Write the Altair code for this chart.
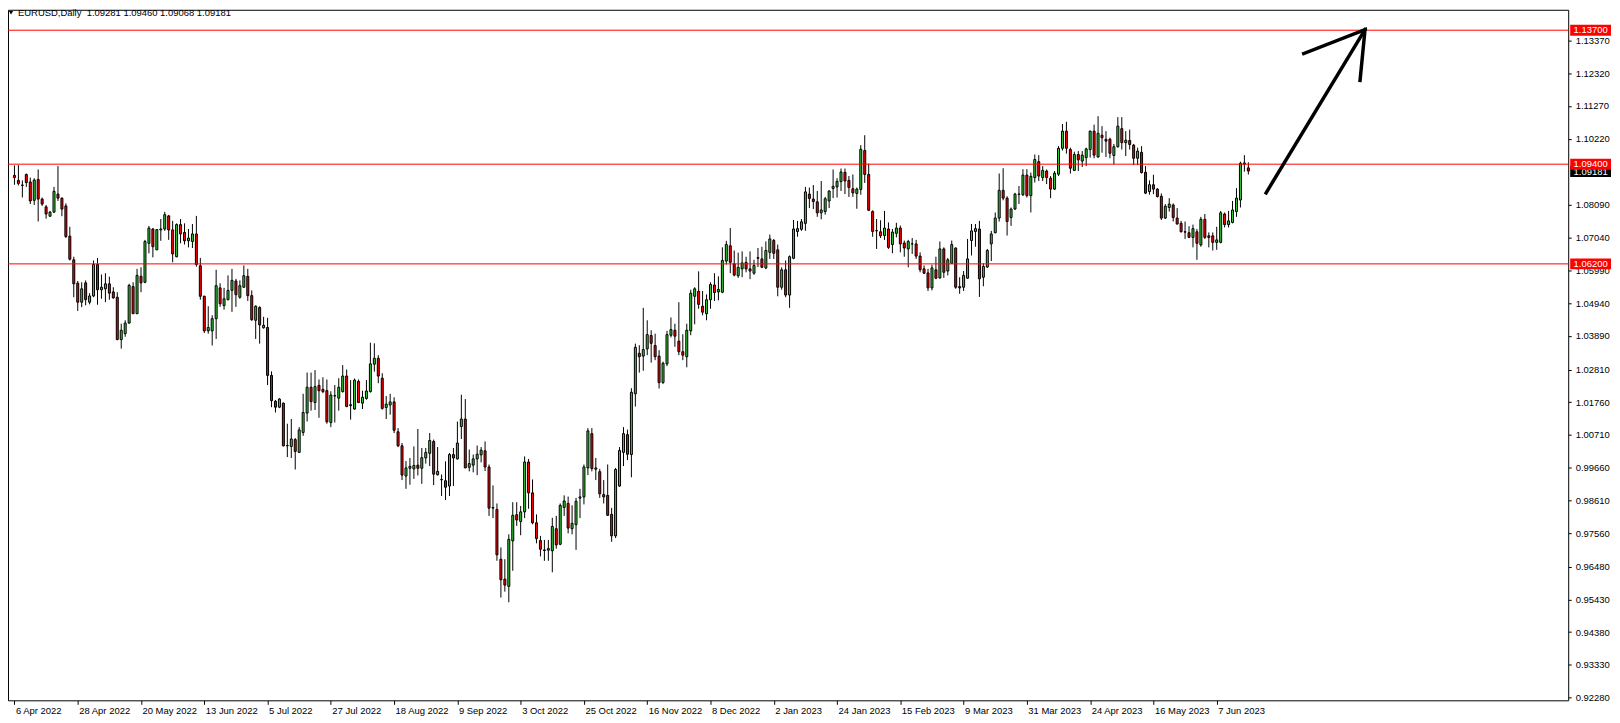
import altair as alt
import pandas as pd

# ---------------- data ----------------
opens = [
1.0904,1.0888,1.0873,1.0907,1.0883,1.0824,1.0891,1.0828,1.0803,1.0773,
1.0786,1.0844,1.0831,1.0806,1.0709,1.0633,1.0558,1.0497,1.0559,1.0497,
1.0517,1.0618,1.0537,1.0540,1.0556,1.0530,1.0513,1.0377,1.0396,1.0430,
1.0547,1.0460,1.0580,1.0561,1.0686,1.0732,1.0665,1.0729,1.0732,1.0774,
1.0729,1.0643,1.0746,1.0721,1.0694,1.0692,1.0716,1.0614,1.0516,1.0405,
1.0405,1.0444,1.0543,1.0486,1.0505,1.0535,1.0565,1.0513,1.0545,1.0580,
1.0518,1.0439,1.0480,1.0415,1.0416,1.0262,1.0179,1.0160,1.0173,1.0036,
1.0034,1.0056,1.0015,1.0079,1.0141,1.0224,1.0175,1.0230,1.0217,1.0213,
1.0111,1.0196,1.0189,1.0210,1.0260,1.0165,1.0154,1.0243,1.0173,1.0188,
1.0210,1.0298,1.0317,1.0253,1.0159,1.0167,1.0177,1.0081,1.0036,0.9939,
0.9964,0.9962,0.9974,0.9964,0.9997,1.0012,1.0050,0.9943,0.9928,0.9924,
0.9907,1.0008,0.9994,1.0098,1.0122,0.9967,0.9974,0.9994,1.0007,1.0020,
0.9968,0.9836,0.9832,0.9672,0.9608,0.9585,0.9731,0.9815,0.9793,0.9824,
0.9984,0.9885,0.9789,0.9732,0.9702,0.9701,0.9699,0.9770,0.9720,0.9838,
0.9851,0.9770,0.9783,0.9868,0.9872,0.9965,1.0075,0.9965,0.9953,0.9880,
0.9877,0.9816,0.9747,0.9907,1.0015,1.0072,1.0008,1.0203,1.0333,1.0324,
1.0347,1.0390,1.0358,1.0324,1.0239,1.0299,1.0391,1.0407,1.0372,1.0338,
1.0322,1.0405,1.0516,1.0532,1.0484,1.0460,1.0505,1.0552,1.0530,1.0529,
1.0629,1.0678,1.0620,1.0582,1.0604,1.0625,1.0604,1.0590,1.0640,1.0636,
1.0607,1.0657,1.0695,1.0665,1.0545,1.0601,1.0520,1.0638,1.0724,1.0731,
1.0750,1.0844,1.0828,1.0819,1.0784,1.0788,1.0822,1.0862,1.0867,1.0884,
1.0914,1.0888,1.0861,1.0846,1.0859,1.0984,1.0907,1.0788,1.0727,1.0723,
1.0711,1.0732,1.0682,1.0718,1.0735,1.0687,1.0668,1.0684,1.0684,1.0645,
1.0604,1.0591,1.0543,1.0601,1.0575,1.0668,1.0597,1.0622,1.0671,1.0547,
1.0545,1.0574,1.0695,1.0724,1.0732,1.0577,1.0610,1.0684,1.0720,1.0767,
1.0856,1.0831,1.0769,1.0796,1.0843,1.0842,1.0905,1.0839,1.0897,1.0948,
1.0897,1.0918,1.0895,1.0860,1.0908,1.0991,1.1046,1.0987,1.0920,1.0971,
1.0950,1.0961,1.0987,1.1046,1.0963,1.1033,1.1020,1.1020,1.0968,1.0996,
1.1054,1.1009,1.1016,1.1001,1.0959,1.0978,1.0914,1.0852,1.0874,1.0860,
1.0837,1.0767,1.0801,1.0809,1.0767,1.0750,1.0723,1.0720,1.0705,1.0723,
1.0681,1.0763,1.0710,1.0710,1.0689,1.0689,1.0780,1.0746,1.0753,1.0788,
1.0825,1.0940,1.09281]

highs = [
1.0936,1.0937,1.0888,1.0910,1.0897,1.0895,1.0923,1.0833,1.0809,1.0790,
1.0867,1.0934,1.0833,1.0814,1.0739,1.0643,1.0565,1.0561,1.0567,1.0526,
1.0631,1.0639,1.0586,1.0590,1.0579,1.0545,1.0529,1.0428,1.0439,1.0556,
1.0561,1.0604,1.0609,1.0697,1.0742,1.0735,1.0732,1.0764,1.0787,1.0777,
1.0758,1.0750,1.0764,1.0750,1.0732,1.0748,1.0774,1.0639,1.0518,1.0484,
1.0455,1.0601,1.0558,1.0543,1.0583,1.0604,1.0572,1.0567,1.0615,1.0604,
1.0535,1.0487,1.0484,1.0450,1.0447,1.0275,1.0183,1.0189,1.0175,1.0107,
1.0122,1.0061,1.0096,1.0203,1.0271,1.0271,1.0279,1.0249,1.0256,1.0249,
1.0211,1.0231,1.0253,1.0295,1.0281,1.0247,1.0252,1.0249,1.0213,1.0247,
1.0367,1.0365,1.0327,1.0269,1.0196,1.0203,1.0192,1.0093,1.0045,0.9987,
0.9997,1.0034,1.0090,1.0029,1.0029,1.0077,1.0056,1.0032,0.9944,0.9986,
1.0013,1.0029,1.0114,1.0200,1.0186,1.0024,1.0008,1.0037,1.0032,1.0050,
0.9976,0.9909,0.9851,0.9710,0.9672,0.9752,0.9855,0.9855,0.9843,1.0002,
0.9994,0.9928,0.9816,0.9747,0.9734,0.9734,0.9805,0.9811,0.9851,0.9877,
0.9873,0.9845,0.9869,0.9898,0.9976,1.0093,1.0093,0.9997,0.9962,0.9926,
0.9976,0.9837,0.9965,1.0032,1.0096,1.0088,1.0221,1.0364,1.0359,1.0479,
1.0439,1.0407,1.0396,1.0343,1.0306,1.0405,1.0448,1.0428,1.0497,1.0394,
1.0428,1.0537,1.0545,1.0596,1.0533,1.0522,1.0561,1.0590,1.0580,1.0673,
1.0694,1.0735,1.0663,1.0656,1.0660,1.0643,1.0660,1.0633,1.0671,1.0675,
1.0692,1.0714,1.0700,1.0682,1.0609,1.0631,1.0647,1.0761,1.0758,1.0764,
1.0867,1.0865,1.0873,1.0854,1.0886,1.0835,1.0856,1.0923,1.0895,1.0926,
1.0926,1.0902,1.0907,1.0865,1.1001,1.1033,1.0942,1.0792,1.0764,1.0760,
1.0790,1.0753,1.0732,1.0752,1.0743,1.0695,1.0697,1.0703,1.0697,1.0657,
1.0615,1.0604,1.0617,1.0643,1.0692,1.0673,1.0639,1.0695,1.0673,1.0577,
1.0597,1.0700,1.0748,1.0748,1.0758,1.0622,1.0668,1.0726,1.0785,1.0910,
1.0927,1.0837,1.0801,1.0848,1.0870,1.0924,1.0924,1.0913,1.0971,1.0969,
1.0934,1.0923,1.0902,1.0918,1.0998,1.1069,1.1076,1.0993,1.0980,1.0982,
1.0982,1.0993,1.1048,1.1067,1.1094,1.1062,1.1046,1.1025,1.1005,1.1091,
1.1091,1.1046,1.1051,1.1005,1.0993,1.0998,1.0934,1.0888,1.0906,1.0863,
1.0846,1.0812,1.0831,1.0814,1.0799,1.0758,1.0756,1.0741,1.0746,1.0732,
1.0771,1.0780,1.0721,1.0721,1.0739,1.0790,1.0785,1.0790,1.0822,1.0863,
1.0948,1.0969,1.09460]

lows = [
1.0874,1.0872,1.0833,1.0867,1.0812,1.0809,1.0756,1.0806,1.0765,1.0771,
1.0784,1.0822,1.0773,1.0703,1.0631,1.0513,1.0469,1.0481,1.0487,1.0490,
1.0513,1.0489,1.0508,1.0497,1.0505,1.0508,1.0375,1.0348,1.0386,1.0428,
1.0460,1.0460,1.0529,1.0558,1.0654,1.0641,1.0665,1.0694,1.0726,1.0697,
1.0625,1.0641,1.0686,1.0682,1.0673,1.0671,1.0611,1.0505,1.0398,1.0396,
1.0358,1.0379,1.0482,1.0473,1.0503,1.0466,1.0482,1.0508,1.0543,1.0501,
1.0437,1.0379,1.0364,1.0412,1.0231,1.0160,1.0143,1.0157,1.0034,1.0000,
0.9997,0.9960,1.0013,1.0068,1.0114,1.0149,1.0151,1.0126,1.0205,1.0107,
1.0096,1.0111,1.0149,1.0207,1.0160,1.0120,1.0152,1.0173,1.0154,1.0184,
1.0207,1.0274,1.0237,1.0152,1.0122,1.0136,1.0077,1.0032,0.9926,0.9898,
0.9911,0.9930,0.9941,0.9914,0.9979,0.9971,0.9910,0.9941,0.9875,0.9862,
0.9875,0.9907,0.9992,1.0058,0.9965,0.9954,0.9951,0.9942,0.9983,0.9955,
0.9811,0.9804,0.9667,0.9549,0.9568,0.9534,0.9635,0.9779,0.9749,0.9804,
0.9834,0.9784,0.9723,0.9681,0.9667,0.9667,0.9630,0.9706,0.9717,0.9811,
0.9755,0.9752,0.9702,0.9804,0.9848,0.9942,0.9954,0.9926,0.9869,0.9851,
0.9811,0.9728,0.9740,0.9904,0.9971,0.9990,0.9935,1.0162,1.0271,1.0277,
1.0327,1.0303,1.0311,1.0220,1.0235,1.0292,1.0384,1.0354,1.0327,1.0311,
1.0288,1.0391,1.0426,1.0476,1.0455,1.0439,1.0476,1.0501,1.0503,1.0526,
1.0618,1.0590,1.0580,1.0575,1.0577,1.0593,1.0571,1.0585,1.0610,1.0607,
1.0603,1.0636,1.0636,1.0516,1.0537,1.0513,1.0479,1.0635,1.0707,1.0726,
1.0726,1.0799,1.0796,1.0771,1.0763,1.0778,1.0799,1.0831,1.0833,1.0854,
1.0844,1.0835,1.0835,1.0797,1.0842,1.0880,1.0790,1.0707,1.0668,1.0703,
1.0697,1.0668,1.0654,1.0705,1.0657,1.0643,1.0609,1.0652,1.0636,1.0593,
1.0588,1.0533,1.0535,1.0571,1.0572,1.0575,1.0583,1.0620,1.0540,1.0524,
1.0533,1.0572,1.0647,1.0675,1.0514,1.0548,1.0607,1.0629,1.0718,1.0756,
1.0824,1.0711,1.0742,1.0793,1.0812,1.0838,1.0833,1.0785,1.0881,1.0886,
1.0886,1.0876,1.0831,1.0857,1.0902,1.0984,1.0974,1.0910,1.0918,1.0918,
1.0931,1.0934,1.0961,1.0959,1.0961,1.0977,1.0963,1.0959,1.0939,1.0993,
1.0987,1.0966,1.0987,1.0937,1.0937,1.0910,1.0844,1.0842,1.0844,1.0833,
1.0761,1.0764,1.0788,1.0756,1.0746,1.0721,1.0700,1.0703,1.0673,1.0633,
1.0675,1.0700,1.0673,1.0663,1.0665,1.0686,1.0737,1.0737,1.0750,1.0771,
1.0801,1.0916,1.09068]

closes = [
1.0897,1.0878,1.0872,1.0881,1.0822,1.0889,1.0828,1.0812,1.0780,1.0786,
1.0853,1.0831,1.0796,1.0708,1.0635,1.0556,1.0497,1.0540,1.0505,1.0517,
1.0618,1.0537,1.0545,1.0556,1.0526,1.0511,1.0377,1.0407,1.0430,1.0551,
1.0460,1.0583,1.0559,1.0692,1.0735,1.0675,1.0730,1.0732,1.0778,1.0729,
1.0652,1.0746,1.0716,1.0694,1.0703,1.0716,1.0618,1.0516,1.0405,1.0416,
1.0444,1.0550,1.0492,1.0508,1.0535,1.0567,1.0521,1.0550,1.0582,1.0518,
1.0441,1.0484,1.0424,1.0423,1.0262,1.0181,1.0160,1.0186,1.0036,1.0037,
1.0058,1.0018,1.0087,1.0143,1.0224,1.0178,1.0226,1.0213,1.0210,1.0113,
1.0199,1.0197,1.0224,1.0260,1.0162,1.0168,1.0247,1.0175,1.0192,1.0212,
1.0299,1.0317,1.0260,1.0156,1.0170,1.0177,1.0086,1.0036,0.9942,0.9965,
0.9970,0.9973,0.9964,0.9998,1.0015,1.0053,0.9945,0.9954,0.9927,0.9903,
1.0008,0.9997,1.0045,1.0122,0.9965,0.9979,0.9994,1.0009,1.0022,0.9968,
0.9836,0.9838,0.9686,0.9606,0.9589,0.9736,0.9813,0.9798,0.9824,0.9984,
0.9885,0.9789,0.9738,0.9704,0.9700,0.9706,0.9777,0.9718,0.9845,0.9859,
0.9772,0.9787,0.9858,0.9872,0.9968,1.0084,0.9963,0.9961,0.9882,0.9872,
0.9813,0.9747,0.9960,1.0021,1.0075,1.0009,1.0208,1.0352,1.0322,1.0345,
1.0393,1.0365,1.0322,1.0239,1.0301,1.0393,1.0409,1.0388,1.0338,1.0327,
1.0407,1.0526,1.0540,1.0490,1.0465,1.0505,1.0554,1.0528,1.0538,1.0631,
1.0682,1.0625,1.0584,1.0609,1.0623,1.0604,1.0597,1.0615,1.0638,1.0609,
1.0663,1.0700,1.0654,1.0545,1.0601,1.0520,1.0643,1.0732,1.0733,1.0755,
1.0851,1.0830,1.0820,1.0784,1.0793,1.0829,1.0854,1.0869,1.0885,1.0915,
1.0886,1.0865,1.0848,1.0860,1.0988,1.0907,1.0792,1.0724,1.0726,1.0710,
1.0735,1.0673,1.0722,1.0735,1.0684,1.0671,1.0692,1.0684,1.0645,1.0601,
1.0590,1.0543,1.0607,1.0574,1.0668,1.0593,1.0633,1.0682,1.0545,1.0543,
1.0583,1.0636,1.0726,1.0733,1.0572,1.0612,1.0663,1.0716,1.0767,1.0856,
1.0831,1.0756,1.0796,1.0844,1.0844,1.0905,1.0839,1.0901,1.0955,1.0902,
1.0920,1.0897,1.0860,1.0911,1.0991,1.1046,1.0991,1.0927,1.0971,1.0954,
1.0969,1.0989,1.1046,1.0969,1.1039,1.1025,1.1014,1.0975,1.0996,1.1062,
1.1009,1.1017,1.1003,1.0959,1.0982,1.0913,1.0847,1.0874,1.0860,1.0836,
1.0767,1.0805,1.0812,1.0769,1.0748,1.0723,1.0722,1.0705,1.0733,1.0686,
1.0763,1.0705,1.0705,1.0689,1.0697,1.0784,1.0746,1.0758,1.0793,1.0831,
1.0943,1.0944,1.09181]

date_labels = ["6 Apr 2022", "28 Apr 2022", "20 May 2022", "13 Jun 2022", "5 Jul 2022",
               "27 Jul 2022", "18 Aug 2022", "9 Sep 2022", "3 Oct 2022", "25 Oct 2022",
               "16 Nov 2022", "8 Dec 2022", "2 Jan 2023", "24 Jan 2023", "15 Feb 2023",
               "9 Mar 2023", "31 Mar 2023", "24 Apr 2023", "16 May 2023", "7 Jun 2023"]
label_step = 16

price_ticks = [1.13370, 1.12320, 1.11270, 1.10220, 1.08090, 1.07040, 1.05990, 1.04940,
               1.03890, 1.02810, 1.01760, 1.00710, 0.99660, 0.98610, 0.97560, 0.96480,
               0.95430, 0.94380, 0.93330, 0.92280]

levels = [1.13700, 1.09400, 1.06200]
current_price = 1.09181
title_text = "EURUSD,Daily\u00a0 1.09281 1.09460 1.09068 1.09181"

arrow_bar = [316.5, 341.5, 326.0, 341.5, 340.25]
arrow_price = [1.0848, 1.1372, 1.1295, 1.1372, 1.1209]
arrow_part = ["shaft", "shaft", "head", "head", "head"]

# ---------------- chart ----------------
assert len(opens) == len(highs) == len(lows) == len(closes)
n = len(opens)
df = pd.DataFrame({"k": list(range(n)), "o": opens, "h": highs, "l": lows, "c": closes})

W, H = 1568, 694
FONT = "Liberation Sans"
BULL, BEAR = "#32CD32", "#FF0000"

xscale = alt.Scale(domain=[-0.375, -0.375 + W / 4], nice=False, zero=False)
yscale = alt.Scale(domain=[0.92191, 1.14356], nice=False, zero=False)

label_arr = "[" + ",".join("'" + s + "'" for s in date_labels) + "]"
xaxis = alt.Axis(values=[i * label_step for i in range(len(date_labels))],
                 labelExpr=label_arr + "[round(datum.value/" + str(label_step) + ")]",
                 title=None, grid=False, domain=False, tickSize=4, tickColor="black",
                 labelAlign="left", labelBaseline="top", labelPadding=1, labelOffset=1,
                 labelFont=FONT, labelFontSize=9.5, labelColor="black",
                 labelOverlap=False, labelFlush=False, labelBound=False)
yaxis = alt.Axis(orient="right", values=price_ticks, format=".5f", title=None, grid=False,
                 domain=False, tickSize=3, tickColor="black", labelPadding=4,
                 labelFont=FONT, labelFontSize=9.5, labelColor="black",
                 labelOverlap=False, labelFlush=False, labelBound=False)

X = alt.X("k:Q", scale=xscale, axis=xaxis)

base = alt.Chart(df)
wicks = base.mark_rule(color="black", strokeWidth=1).encode(
    x=X, y=alt.Y("l:Q", scale=yscale, axis=yaxis), y2="h:Q")
bodies = base.mark_bar(size=2, stroke="black", strokeWidth=1).encode(
    x=X, y=alt.Y("o:Q", scale=yscale, axis=yaxis), y2="c:Q",
    color=alt.condition("datum.c >= datum.o", alt.value(BULL), alt.value(BEAR)))

lev_df = pd.DataFrame({"p": levels, "lab": ["%.5f" % v for v in levels]})
cur_df = pd.DataFrame({"p": [current_price], "lab": ["%.5f" % current_price]})

hlines = alt.Chart(lev_df).mark_rule(color="#FF0000", strokeWidth=1).encode(
    y=alt.Y("p:Q", scale=yscale, axis=yaxis))

cur_box = alt.Chart(cur_df).mark_rect(color="black", yOffset=-5, y2Offset=6).encode(
    y=alt.Y("p:Q", scale=yscale, axis=yaxis), y2="p:Q",
    x=alt.value(W + 2), x2=alt.value(W + 43))
cur_txt = alt.Chart(cur_df).mark_text(color="white", font=FONT, fontSize=9.5,
                                      align="center", baseline="middle", dy=1).encode(
    y=alt.Y("p:Q", scale=yscale, axis=yaxis), x=alt.value(W + 22.5), text="lab:N")

lev_box = alt.Chart(lev_df).mark_rect(color="#FF0000", yOffset=-5.5, y2Offset=5.5).encode(
    y=alt.Y("p:Q", scale=yscale, axis=yaxis), y2="p:Q",
    x=alt.value(W + 2), x2=alt.value(W + 43))
lev_txt = alt.Chart(lev_df).mark_text(color="white", font=FONT, fontSize=9.5,
                                      align="center", baseline="middle").encode(
    y=alt.Y("p:Q", scale=yscale, axis=yaxis), x=alt.value(W + 22.5), text="lab:N")

arrow_df = pd.DataFrame({"k": arrow_bar, "p": arrow_price, "part": arrow_part,
                         "ord": list(range(len(arrow_bar)))})
arrow = alt.Chart(arrow_df).mark_line(color="black", strokeWidth=3.5, strokeCap="square",
                                      strokeJoin="miter").encode(
    x=X, y=alt.Y("p:Q", scale=yscale, axis=yaxis), detail="part:N", order="ord:Q")

title_df = pd.DataFrame({"t": [title_text]})
title = alt.Chart(title_df).mark_text(align="left", baseline="middle", font=FONT,
                                      fontSize=9.5, color="black").encode(
    x=alt.value(10), y=alt.value(3), text="t:N")
tri = alt.Chart(title_df).mark_point(shape="triangle-down", filled=True, color="black",
                                     size=18, opacity=1).encode(
    x=alt.value(3), y=alt.value(3))

chart = alt.layer(wicks, bodies, hlines, arrow, cur_box, cur_txt, lev_box, lev_txt,
                  title, tri).properties(
    width=W, height=H,
    autosize=alt.AutoSizeParams(type="none"),
    padding={"left": 0, "top": 0, "right": 44, "bottom": 21},
    background="white",
).configure_view(stroke="black", strokeWidth=1)

chart.save("out.html", embed_options={"renderer": "svg", "actions": False})
